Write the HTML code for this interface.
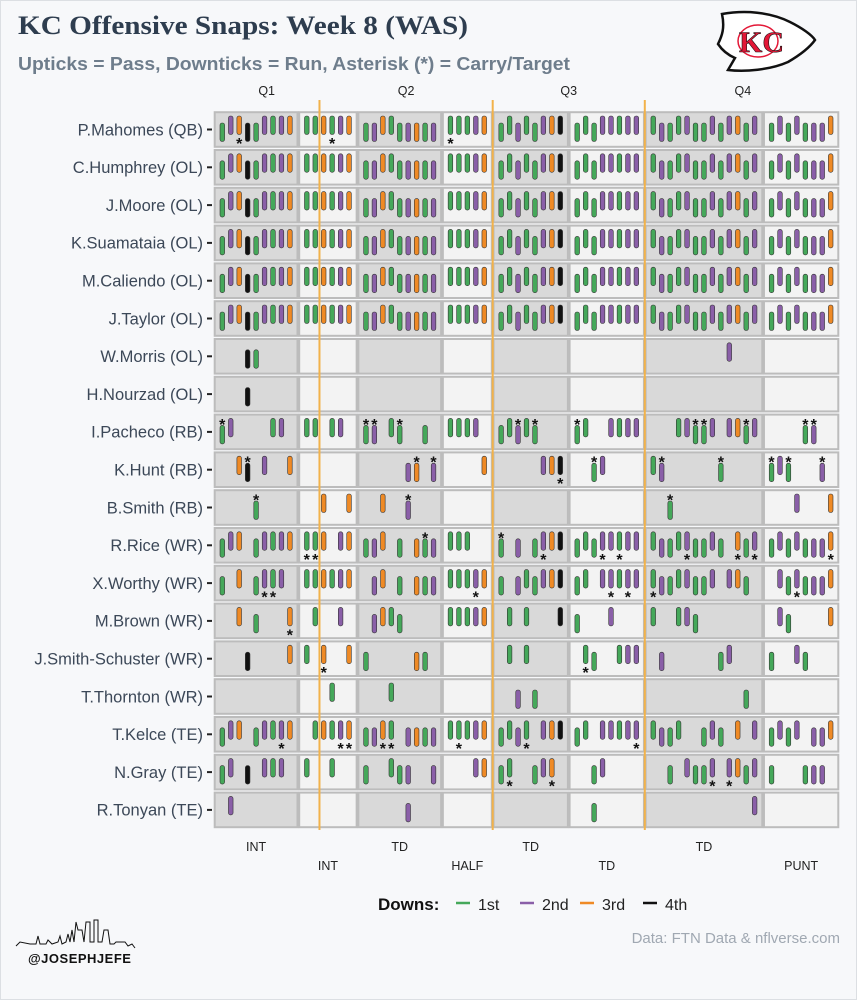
<!DOCTYPE html>
<html><head><meta charset="utf-8"><style>
html,body{margin:0;padding:0;background:#f7f8fa;}
svg{display:block;}
</style></head><body>
<svg id="chart" width="857" height="1000" viewBox="0 0 857 1000" xmlns="http://www.w3.org/2000/svg">
<rect x="0.5" y="0.5" width="856" height="999" fill="#f7f8fa" stroke="#dcdfe3"/>
<text x="18" y="34" font-family="Liberation Serif, serif" font-weight="bold" font-size="26" fill="#2e3d4f" textLength="450" lengthAdjust="spacingAndGlyphs">KC Offensive Snaps: Week 8 (WAS)</text>
<text x="18" y="70" font-family="Liberation Sans, sans-serif" font-weight="bold" font-size="18" fill="#6e7d8c" textLength="552" lengthAdjust="spacingAndGlyphs">Upticks = Pass, Downticks = Run, Asterisk (*) = Carry/Target</text>
<g>
<path d="M722,14 C745,10 770,12 790,22 C802,28 812,35 815,40 C810,47 800,55 788,62 C770,70 745,72 728,70 L735,58 C728,55 722,50 718,44 C722,36 725,28 722,14 Z" fill="#fff" stroke="#111" stroke-width="2.5"/>
<ellipse cx="758" cy="41" rx="20" ry="16" fill="#fff" stroke="#e31837" stroke-width="1.5"/>
<text x="739" y="52" font-family="Liberation Serif, serif" font-weight="bold" font-size="30" fill="#e31837" stroke="#111" stroke-width="0.6">KC</text>
</g>
<g id="plot"></g>
<g>
<text x="378" y="910" font-family="Liberation Sans, sans-serif" font-weight="bold" font-size="17" fill="#111">Downs:</text>
<line x1="456" y1="903" x2="470" y2="903" stroke="#45a85a" stroke-width="2.5"/>
<text x="478" y="910" font-family="Liberation Sans, sans-serif" font-size="16" fill="#222">1st</text>
<line x1="520" y1="903" x2="534" y2="903" stroke="#8a5fa8" stroke-width="2.5"/>
<text x="542" y="910" font-family="Liberation Sans, sans-serif" font-size="16" fill="#222">2nd</text>
<line x1="580" y1="903" x2="594" y2="903" stroke="#ef8a25" stroke-width="2.5"/>
<text x="602" y="910" font-family="Liberation Sans, sans-serif" font-size="16" fill="#222">3rd</text>
<line x1="643" y1="903" x2="657" y2="903" stroke="#111" stroke-width="2.5"/>
<text x="665" y="910" font-family="Liberation Sans, sans-serif" font-size="16" fill="#222">4th</text>
</g>
<text x="840" y="943" text-anchor="end" font-family="Liberation Sans, sans-serif" font-size="15" fill="#a0a8b2">Data: FTN Data &amp; nflverse.com</text>
<g>
<polyline fill="none" stroke="#111" stroke-width="1" points="16,946 20,942 30,944 36,944 38,936 40,944 46,944 48,940 52,944 58,942 60,936 62,944 66,942 68,934 70,942 72,930 74,942 76,922 78,930 82,930 84,942 86,922 90,922 90,942 94,942 94,920 98,920 98,942 102,942 104,930 108,930 110,944 114,944 116,942 125,942 128,946 132,944 135,948"/>
<text x="28" y="963" font-family="Liberation Sans, sans-serif" font-weight="bold" font-size="13" fill="#111" letter-spacing="0.5">@JOSEPHJEFE</text>
</g>
</svg>
<script>
const players = ["P.Mahomes (QB)","C.Humphrey (OL)","J.Moore (OL)","K.Suamataia (OL)","M.Caliendo (OL)","J.Taylor (OL)","W.Morris (OL)","H.Nourzad (OL)","I.Pacheco (RB)","K.Hunt (RB)","B.Smith (RB)","R.Rice (WR)","X.Worthy (WR)","M.Brown (WR)","J.Smith-Schuster (WR)","T.Thornton (WR)","T.Kelce (TE)","N.Gray (TE)","R.Tonyan (TE)"];
const drivePlayCounts = [9,6,9,5,8,8,13,8];
const driveResults = ["INT","INT","TD","HALF","TD","TD","TD","PUNT"];
const quarterLabels = ["Q1","Q2","Q3","Q4"];
const quarterBreaks = [11.5,32,50];
const playDowns = [1,2,3,4,1,2,1,2,3, 1,1,3,1,2,3, 1,2,3,1,1,2,3,1,2, 1,1,1,2,3, 1,1,2,1,1,2,3,4, 1,1,1,2,2,1,2,2, 1,2,1,1,2,1,1,2,1,2,3,1,2, 1,2,1,2,1,2,2,3];
const playTypes = "RPPRRPPPP"+"PPPPPP"+"RRPPRRRRR"+"PPPPP"+"RPRPRPPP"+"RPRPPPPP"+"PRRPPRRPRPPRP"+"RPRPRRRP";
const ALL = "all";
const snapsMahomes = ALL, astMahomes = [2,13,27];
const snapsMorris = [3,4,60], snapsNourzad = [3];
const snapsPacheco = [0,1,6,7,10,11,13,14,17,18,20,21,24,27,28,29,30,33,34,35,36,37,42,43,46,47,48,49,54,55,56,57,58,60,61,62,63,69,70];
const astPacheco = [0,17,18,21,35,37,42,56,57,62,69,70];
const snapsHunt = [2,3,5,8,22,23,25,31,38,39,40,44,45,51,52,59,65,66,67,71];
const astHunt = [3,23,25,40,44,52,59,65,67,71];
const snapsBSmith = [4,12,15,19,22,53,68,72], astBSmith = [4,22,53];
const snapsRice = [0,1,2,4,5,6,7,8,10,11,12,14,15,17,18,19,21,23,24,25,27,28,29,33,35,37,38,39,40,42,43,44,45,46,47,48,49,51,52,53,54,55,56,57,58,59,61,62,63,65,66,67,68,69,70,71,72];
const astRice = [10,11,24,33,38,45,47,55,61,63,72];
const snapsWorthy = [0,2,4,5,6,7,10,11,12,13,14,15,18,19,21,23,24,25,27,28,29,30,31,33,35,36,37,38,39,40,42,43,45,46,47,48,49,51,52,53,54,55,56,57,58,60,61,62,66,67,68,69,70,71,72];
const astWorthy = [5,6,30,46,48,51,68];
const snapsBrown = [2,4,8,11,14,18,19,20,21,27,28,29,30,31,34,36,40,42,46,51,54,55,56,66,67,72], astBrown = [8];
const snapsJSS = [3,8,10,12,15,17,23,24,34,36,43,44,47,48,49,52,59,60,65,68,69], astJSS = [12,43];
const snapsThornton = [13,20,35,37,62];
const snapsKelce = [0,1,2,4,5,6,7,8,11,12,13,14,15,17,18,19,20,22,23,24,25,27,28,29,30,31,33,34,35,36,38,39,40,42,43,45,46,47,48,49,51,52,53,54,57,58,59,61,63,65,66,67,68,70,71,72];
const astKelce = [7,14,15,19,20,28,36,49];
const snapsGray = [0,1,3,5,6,7,10,13,17,20,21,22,25,30,31,33,34,37,38,39,44,45,53,55,56,57,58,60,61,62,63,65,69,70,71];
const astGray = [34,39,58,60];
const snapsTonyan = [1,22,44,63];
const playerSnaps = [snapsMahomes,ALL,ALL,ALL,ALL,ALL,snapsMorris,snapsNourzad,snapsPacheco,snapsHunt,snapsBSmith,snapsRice,snapsWorthy,snapsBrown,snapsJSS,snapsThornton,snapsKelce,snapsGray,snapsTonyan];
const playerAst = [astMahomes,[],[],[],[],[],[],[],astPacheco,astHunt,astBSmith,astRice,astWorthy,astBrown,astJSS,[],astKelce,astGray,[]];

const NS="http://www.w3.org/2000/svg";
const plot=document.getElementById('plot');
const X0=222.3, DX=8.45, Y0=129.5, DY=37.8;
const xs = s => X0 + s*DX;
const ys = r => Y0 + r*DY;
const downColor = {1:"#45a85a",2:"#8a5fa8",3:"#ef8a25",4:"#111111"};
function mk(tag, attrs){const e=document.createElementNS(NS,tag);for(const k in attrs)e.setAttribute(k,attrs[k]);return e;}
const slotOfPlay=[], playOfSlot={}, drives=[];
let slot=0, p=0;
drivePlayCounts.forEach((n,d)=>{const f=slot;for(let i=0;i<n;i++){slotOfPlay.push(slot);playOfSlot[slot]=p;slot++;p++;}drives.push([f,slot-1]);slot++;});
const allSlots = slotOfPlay.slice();
players.forEach((name,r)=>{
  const c=ys(r);
  drives.forEach(([f,l],d)=>{
    const cell=mk('rect',{x:xs(f)-7.6,y:c-17.3,width:xs(l)-xs(f)+15.2,height:34.6,fill:d%2===0?"#d9d9d9":"#f3f3f3",stroke:"#bcbcbc","stroke-width":2});
    
    
    plot.appendChild(cell);
  });
  const lab=mk('text',{x:203,y:c+5.8,"text-anchor":"end","font-family":"Liberation Sans, sans-serif","font-size":"16.5",fill:"#3c4858"});
  lab.textContent=name;
  
  
  plot.appendChild(lab);
  const tk=mk('line',{x1:207,x2:212,y1:c,y2:c,stroke:"#222","stroke-width":2});
  
  
  plot.appendChild(tk);
});
quarterBreaks.forEach(q=>{
  const ln=mk('line',{x1:xs(q),x2:xs(q),y1:100,y2:830,stroke:"#f2b24a","stroke-width":2});
  
  
  plot.appendChild(ln);
});
const qb=[-1].concat(quarterBreaks,[73.2]);
quarterLabels.forEach((q,i)=>{
  const t=mk('text',{x:(xs(qb[i])+xs(qb[i+1]))/2,y:95,"text-anchor":"middle","font-family":"Liberation Sans, sans-serif","font-size":"12.5",fill:"#222"});
  t.textContent=q;
  
  
  plot.appendChild(t);
});
drives.forEach(([f,l],d)=>{
  const t=mk('text',{x:(xs(f)+xs(l))/2,y:d%2===0?851:870,"text-anchor":"middle","font-family":"Liberation Sans, sans-serif","font-size":"12.5",fill:"#222"});
  t.textContent=driveResults[d];
  
  
  plot.appendChild(t);
});
players.forEach((name,r)=>{
  const c=ys(r);
  const snaps = playerSnaps[r]===ALL ? allSlots : playerSnaps[r];
  snaps.forEach(s=>{
    const pi=playOfSlot[s]; if(pi===undefined) return;
    const pass = playTypes[pi]==="P";
    const top = pass ? c-13.5 : c-6.5;
    const b=mk('rect',{x:xs(s)-2.3,y:top,width:4.6,height:18.5,rx:2.2,fill:downColor[playDowns[pi]],stroke:"#333","stroke-width":0.6});
    
    
    plot.appendChild(b);
    if(playerAst[r].includes(s)){
      const cy = pass ? c+10.5 : c-11;
      const a=mk('text',{x:xs(s),y:cy+9,"text-anchor":"middle","font-family":"Liberation Sans, sans-serif","font-weight":"bold","font-size":"16",fill:"#111"});
      a.textContent="*";
      
      
      plot.appendChild(a);
    }
  });
});
</script>
</body></html>
